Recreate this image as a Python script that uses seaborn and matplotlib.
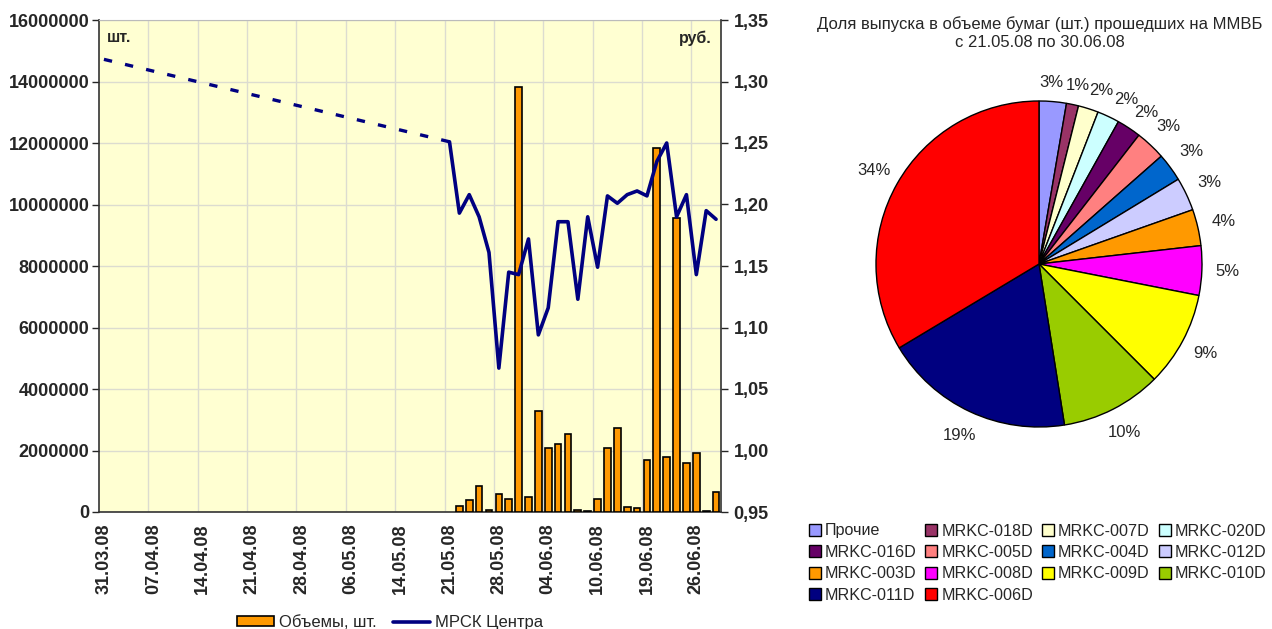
import numpy as np
import pandas as pd
import matplotlib
matplotlib.use("Agg")
import matplotlib.pyplot as plt
import seaborn as sns
from matplotlib.patches import Patch
from matplotlib.lines import Line2D
from matplotlib.ticker import FuncFormatter, MultipleLocator

# ---------------- data ----------------
n_days = 63                     # trading days 31.03.08 .. 30.06.08
tick_labels = ["31.03.08", "07.04.08", "14.04.08", "21.04.08", "28.04.08",
               "06.05.08", "14.05.08", "21.05.08", "28.05.08", "04.06.08",
               "10.06.08", "19.06.08", "26.06.08"]
label_every = 5
trade_start = 35                # index of 21.05.08
price_first = 1.318             # price on 31.03.08
# prices 21.05.08 .. 30.06.08 (rub.)
price = [1.251, 1.193, 1.208, 1.190, 1.161, 1.067, 1.145, 1.143, 1.172, 1.094,
         1.116, 1.186, 1.186, 1.123, 1.190, 1.149, 1.207, 1.201, 1.208, 1.211,
         1.207, 1.235, 1.250, 1.190, 1.208, 1.143, 1.195, 1.188]
# volumes 21.05.08 .. 30.06.08 (millions of pcs)
volume_mln = [0, 0.18, 0.38, 0.86, 0.05, 0.57, 0.41, 13.83, 0.50, 3.28,
              2.07, 2.22, 2.53, 0.08, 0.03, 0.42, 2.09, 2.73, 0.17, 0.14,
              1.70, 11.85, 1.79, 9.55, 1.58, 1.92, 0.03, 0.65]

pie_labels = ["Прочие", "MRKC-018D", "MRKC-007D", "MRKC-020D", "MRKC-016D",
              "MRKC-005D", "MRKC-004D", "MRKC-012D", "MRKC-003D", "MRKC-008D",
              "MRKC-009D", "MRKC-010D", "MRKC-011D", "MRKC-006D"]
pie_values = [2.7, 1.2, 2.0, 2.2, 2.4, 3.0, 2.8, 3.3, 3.6, 4.9, 9.4, 10.0, 18.9, 33.6]
pie_colors = ["#9999FF", "#993366", "#FFFFCC", "#CCFFFF", "#660066",
              "#FF8080", "#0066CC", "#CCCCFF", "#FF9900", "#FF00FF",
              "#FFFF00", "#99CC00", "#000080", "#FF0000"]

# ---------------- style ----------------
sns.set_style("white")
plt.rcParams["font.family"] = ["Liberation Sans", "DejaVu Sans"]

fig = plt.figure(figsize=(12.72, 6.29), dpi=100)

# ---------------- left combo chart ----------------
ax = fig.add_axes([99 / 1272, 1 - 512 / 629, 622 / 1272, 492 / 629])
ax.set_facecolor("#FFFFD2")
ax.set_axisbelow(True)

idx = np.arange(trade_start, trade_start + len(volume_mln))
df = pd.DataFrame({"idx": idx, "volume": np.array(volume_mln) * 1e6, "price": price})
dfb = df[df["volume"] > 0]

sns.barplot(data=dfb, x="idx", y="volume", native_scale=True, width=0.68,
            color="#FF9900", saturation=1, edgecolor="black", linewidth=1.2,
            ax=ax, zorder=3)

ax.set_xlim(-0.5, n_days - 0.5)
ax.set_ylim(0, 16e6)
ax.yaxis.set_major_locator(MultipleLocator(2e6))
ax.yaxis.set_major_formatter(FuncFormatter(lambda v, p: f"{int(round(v))}"))
ticks = np.arange(0, n_days, label_every)[:len(tick_labels)]
ax.set_xticks(ticks)
ax.set_xticklabels(tick_labels, rotation=90, fontsize=13, fontweight="bold")
ax.set_xticks(np.arange(label_every - 0.5, n_days - 1, label_every), minor=True)
ax.grid(True, which="minor", axis="x", color="#DCDCD0", lw=1)
ax.grid(True, which="major", axis="y", color="#DCDCD0", lw=1)
ax.grid(False, which="major", axis="x")
ax.set_xlabel("")
ax.set_ylabel("")
ax.tick_params(axis="y", labelsize=13, length=5, width=1, direction="out", left=True, pad=2)
ax.tick_params(axis="x", which="both", length=0, pad=8)
for lab in ax.get_yticklabels():
    lab.set_fontweight("bold")
for s in ["left", "bottom"]:
    ax.spines[s].set_color("#333333")
    ax.spines[s].set_linewidth(1.2)
ax.spines["top"].set_color("#BBBBBB")
ax.spines["right"].set_visible(False)

ax2 = ax.twinx()
ax2.set_ylim(0.95, 1.35)
sns.lineplot(x=[0, trade_start], y=[price_first, price[0]], ax=ax2,
             color="#000080", lw=2.4, linestyle=(0, (2.5, 4)))
sns.lineplot(data=df, x="idx", y="price", ax=ax2, color="#000080", lw=2.6)
ax2.set_xlim(-0.5, n_days - 0.5)
ax2.yaxis.set_major_locator(MultipleLocator(0.05))
ax2.yaxis.set_major_formatter(FuncFormatter(lambda v, p: f"{v:.2f}".replace(".", ",")))
ax2.tick_params(axis="y", labelsize=13, length=5, width=1, direction="out", right=True, pad=4)
for lab in ax2.get_yticklabels():
    lab.set_fontweight("bold")
ax2.set_ylabel("")
ax2.set_xlabel("")
ax2.spines["right"].set_color("#333333")
ax2.spines["right"].set_linewidth(1.2)
for s in ["left", "top", "bottom"]:
    ax2.spines[s].set_visible(False)

ax.text(0.012, 1 - 18 / 492, "шт.", transform=ax.transAxes, fontsize=11.5,
        fontweight="bold", ha="left", va="center")
ax.text(0.985, 1 - 18 / 492, "руб.", transform=ax.transAxes, fontsize=11.5,
        fontweight="bold", ha="right", va="center")

left_handles = [Patch(facecolor="#FF9900", edgecolor="black", lw=1.2),
                Line2D([0], [0], color="#000080", lw=2.6)]
fig.legend(left_handles, ["Объемы, шт.", "МРСК Центра"], loc="lower center",
           bbox_to_anchor=(390 / 1272, -0.026), ncol=2, frameon=False, fontsize=12,
           handlelength=2.2, handleheight=0.55, columnspacing=1.0, handletextpad=0.3)

# ---------------- pie ----------------
R = 163
half = 1.3
w = 2 * half * R
axp = fig.add_axes([(1039 - w / 2) / 1272, 1 - (264 + w / 2) / 629, w / 1272, w / 629])
wedges, texts, autotexts = axp.pie(
    pie_values, colors=pie_colors, startangle=90, counterclock=False,
    wedgeprops=dict(edgecolor="black", linewidth=1),
    autopct="%.0f%%", pctdistance=1.16, textprops=dict(fontsize=12))
# spread the crowded labels of the thin top slices a little (as in the original)
for t, dx in zip(autotexts[:5], [-0.02, 0.0, 0.03, 0.04, 0.02]):
    x, y = t.get_position()
    t.set_position((x + dx, y - 0.04))
axp.set_xlim(-half, half)
axp.set_ylim(-half, half)
axp.set_aspect("equal")
axp.axis("off")

fig.text(1040 / 1272, 1 - 33 / 629,
         "Доля выпуска в объеме бумаг (шт.) прошедших на ММВБ\nс 21.05.08 по 30.06.08",
         ha="center", va="center", fontsize=12, linespacing=1.2)

order = [0, 4, 8, 12, 1, 5, 9, 13, 2, 6, 10, 3, 7, 11]
pie_handles = [Patch(facecolor=pie_colors[i], edgecolor="black", lw=1) for i in order]
fig.legend(pie_handles, [pie_labels[i] for i in order], loc="upper left",
           bbox_to_anchor=(794 / 1272, 1 - 509 / 629), ncol=4, frameon=False,
           fontsize=11.6, handlelength=0.75, handleheight=0.75, handletextpad=0.25,
           columnspacing=0.55, labelspacing=0.4)

fig.savefig("out.png", dpi=100)
